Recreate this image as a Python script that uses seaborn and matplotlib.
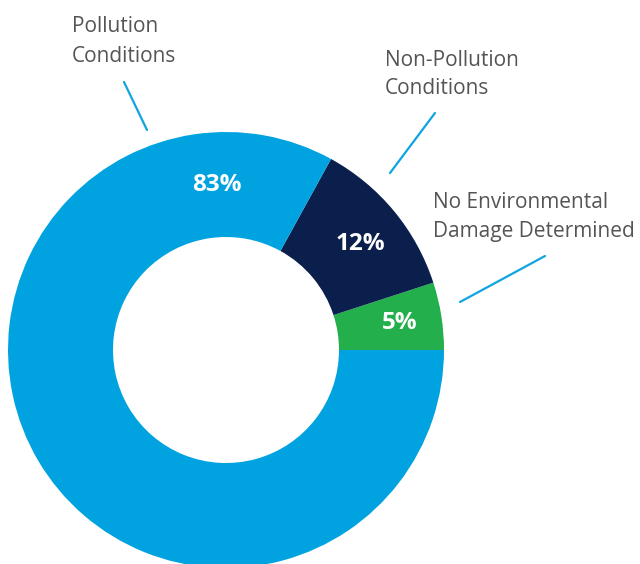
import matplotlib
matplotlib.use('Agg')
import matplotlib.pyplot as plt
import seaborn as sns

# --- data ---
categories = ['No Environmental\nDamage Determined', 'Non-Pollution\nConditions', 'Pollution\nConditions']
shares = [5, 12, 83]
colors = ['#23AF4B', '#0B1F4D', '#00A3E0']

sns.set_theme(style='white')
plt.rcParams['font.family'] = ['Open Sans', 'DejaVu Sans']

W, H = 640, 564
fig = plt.figure(figsize=(W / 100, H / 100), dpi=100)
ax = fig.add_axes([0, 0, 1, 1])

cx, cy = 226, H - 350
r_out, r_in = 218, 113
ax.pie(shares, colors=colors, startangle=0, counterclock=True,
       center=(cx, cy), radius=r_out, frame=True,
       wedgeprops=dict(width=r_out - r_in, linewidth=0))
ax.set_xlim(0, W)
ax.set_ylim(0, H)
ax.set_aspect('equal')
ax.axis('off')

# percentage labels inside the ring
pct_pos = [(400, 323), (360, 244), (217, 185)]
for v, (px, py) in zip(shares, pct_pos):
    ax.text(px, H - py, f'{v}%', color='white', fontsize=17.5, fontweight='bold',
            ha='center', va='center')

# outside labels + leader lines
label_pos = [(433, 203), (385, 60), (72, 27)]
lines = [((545, 256), (460, 302)), ((435, 113), (390, 173)), ((124, 82), (147, 130))]
for lab, (lx, ly), ((x0, y0), (x1, y1)) in zip(categories, label_pos, lines):
    for i, part in enumerate(lab.split('\n')):
        ax.text(lx, H - (ly + i * 29), part, color='#555555', fontsize=15,
                ha='left', va='center')
    ax.plot([x0, x1], [H - y0, H - y1], color='#0EA5E0', lw=1.6)

fig.savefig('out.png', dpi=100)
